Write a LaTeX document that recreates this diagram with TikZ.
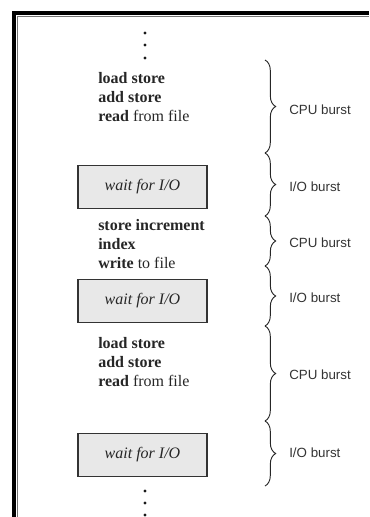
\documentclass[tikz,border=0pt]{standalone}
\usepackage{fontspec}
\setmainfont{Liberation Serif}
\setsansfont{Liberation Sans}
\usepackage{tikz}
\usetikzlibrary{decorations.pathreplacing}
\tikzstyle{waitbox}=[rectangle,draw=black!80,fill=black!9,line width=0.9pt,minimum width=96.75pt,minimum height=32pt,inner sep=0pt,text=black!85,font=\itshape\fontsize{12}{14}\selectfont]
\tikzstyle{codeline}=[anchor=base west,inner sep=0pt,text=black!85,font=\fontsize{12}{14}\selectfont]
\tikzstyle{burst}=[draw=black!85,line width=0.7pt,decorate,decoration={brace,amplitude=8pt}]
\tikzstyle{burstlabel}=[anchor=west,inner sep=0pt,text=black!80,font=\sffamily\fontsize{10}{12}\selectfont]
\tikzstyle{smalldot}=[circle,fill=black!90,minimum size=2.4pt,inner sep=0pt]

\begin{document}
\begin{tikzpicture}[x=0.75pt,y=-0.75pt]

  \useasboundingbox (0,0) rectangle (369,517);

  \draw[line width=3pt] (14,517) -- (14,13) -- (369,13);
  \draw[black!55,line width=1pt] (17.3,517) -- (17.3,16.3) -- (369,16.3);

   \foreach \y/\name in {33/dt1, 45/dt2, 58/dt3, 491/db1, 503/db2, 515/db3}
          \node[smalldot] (\name) at (145,\y) {};

   \foreach \y/\name/\label in {84/ca1/{\textbf{load store}}, 103/ca2/{\textbf{add store}}, 121/ca3/{\textbf{read} from file}}
          \node[codeline] (\name) at (98,\y) {\label};

   \foreach \y/\name/\label in {230/cb1/{\textbf{store increment}}, 249/cb2/{\textbf{index}}, 268/cb3/{\textbf{write} to file}}
          \node[codeline] (\name) at (98,\y) {\label};

   \foreach \y/\name/\label in {348/cc1/{\textbf{load store}}, 367/cc2/{\textbf{add store}}, 386/cc3/{\textbf{read} from file}}
          \node[codeline] (\name) at (98,\y) {\label};

   \foreach \y/\name in {187/io1, 301/io2, 455/io3}
          \node[waitbox] (\name) at (142.5,\y) {wait for I/O};

   \foreach \y/\name in {60/b0, 153/b1, 216/b2, 266/b3, 326/b4, 421/b5, 486/b6}
          \coordinate (\name) at (265,\y);

  \foreach \source/ \dest in {b0/b1, b1/b2, b2/b3, b3/b4, b4/b5, b5/b6}
         \path[burst] (\source) -- (\dest);

   \foreach \y/\name/\label in {110/l1/{CPU burst}, 187/l2/{I/O burst}, 243/l3/{CPU burst}, 298/l4/{I/O burst}, 375/l5/{CPU burst}, 453/l6/{I/O burst}}
          \node[burstlabel] (\name) at (289,\y) {\label};

   \end{tikzpicture}
\end{document}
